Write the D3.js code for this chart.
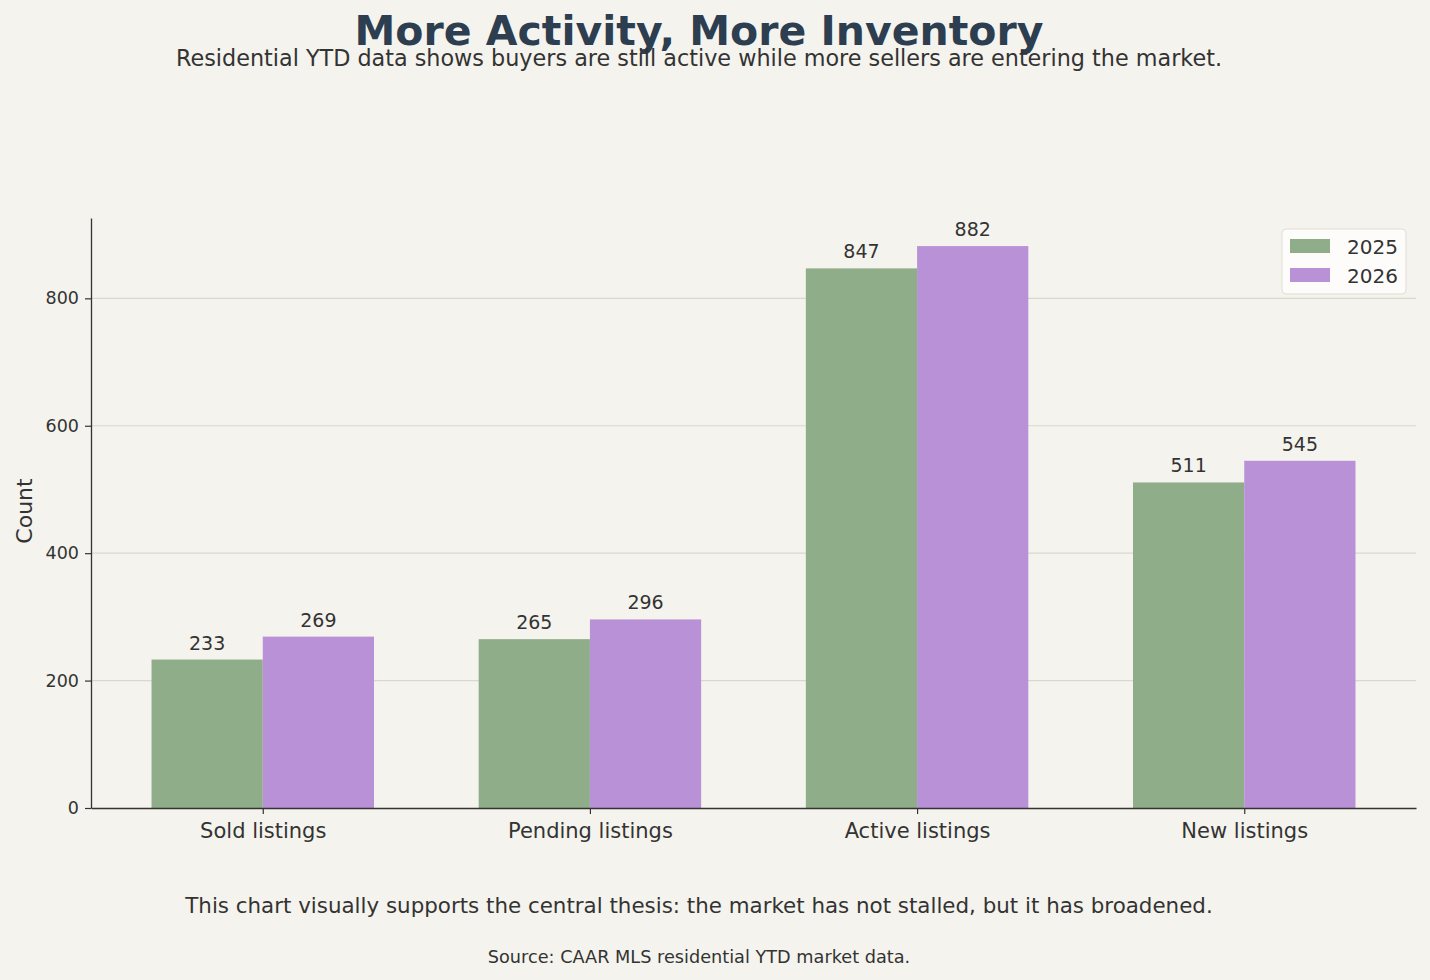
<!DOCTYPE html>
<html>
<head>
<meta charset="utf-8">
<script src="https://cdn.jsdelivr.net/npm/d3@7"></script>
<style>
  body { margin: 0; background: #f5f3ed; }
  svg text { font-family: "DejaVu Sans", sans-serif; }
</style>
</head>
<body>
<svg id="chart"></svg>
<script>
// dados
const categories = ["Sold listings", "Pending listings", "Active listings", "New listings"];
const years = ["2025", "2026"];
const values2025 = [233, 265, 847, 511];
const values2026 = [269, 296, 882, 545];
const yTicks = [0, 200, 400, 600, 800];
const colors = ["#8fad88", "#b991d6"];

const width = 1430, height = 980;
const margin = { top: 218, right: 14, bottom: 172, left: 91 };
const innerWidth = width - margin.left - margin.right;
const innerHeight = height - margin.top - margin.bottom;

const svg = d3.select("#chart").attr("width", width).attr("height", height);
svg.append("rect").attr("width", width).attr("height", height).attr("fill", "#f5f3ed");

const g = svg.append("g").attr("transform", `translate(${margin.left},${margin.top})`);

// eixo X: posição numérica das categorias, como no matplotlib
const x = d3.scaleLinear().domain([-0.525, 3.525]).range([0, innerWidth]);
const barW = 0.34;

const y = d3.scaleLinear()
  .domain([0, d3.max(values2026) * 1.05])
  .range([innerHeight, 0]);

// grade horizontal
g.append("g")
  .selectAll("line")
  .data(yTicks.filter(d => d > 0))
  .enter()
  .append("line")
  .attr("x1", 0).attr("x2", innerWidth)
  .attr("y1", d => y(d)).attr("y2", d => y(d))
  .attr("stroke", "#dcd7cc").attr("stroke-width", 1.2);

const series = [values2025, values2026];
series.forEach((vals, s) => {
  const off = s === 0 ? -barW / 2 : barW / 2;
  g.append("g")
    .selectAll("rect")
    .data(vals)
    .enter()
    .append("rect")
    .attr("x", (d, i) => x(i + off - barW / 2))
    .attr("width", x(barW) - x(0))
    .attr("y", d => y(d))
    .attr("height", d => innerHeight - y(d))
    .attr("fill", colors[s]);

  // rótulos dos valores
  g.append("g")
    .selectAll("text")
    .data(vals)
    .enter()
    .append("text")
    .attr("x", (d, i) => x(i + off))
    .attr("y", d => y(d) - 10)
    .attr("text-anchor", "middle")
    .attr("font-size", 19)
    .attr("fill", "#333")
    .text(d => d);
});

// eixo Y
const yAxis = g.append("g")
  .attr("font-family", null).attr("font-size", null)
  .call(d3.axisLeft(y).tickValues(yTicks).tickSize(6).tickSizeOuter(0).tickPadding(6));
yAxis.select(".domain").attr("stroke", "#333").attr("stroke-width", 1.3);
yAxis.selectAll(".tick line").attr("stroke", "#333").attr("stroke-width", 1.2);
yAxis.selectAll("text").style("font-size", "17.5px").attr("fill", "#333");

// eixo X
const xAxis = g.append("g")
  .attr("transform", `translate(0,${innerHeight})`)
  .call(d3.axisBottom(x).tickValues(d3.range(categories.length))
    .tickFormat(i => categories[i]).tickSize(6).tickPadding(6).tickSizeOuter(0));
xAxis.select(".domain").attr("stroke", "#333").attr("stroke-width", 1.3);
xAxis.selectAll(".tick line").attr("stroke", "#333").attr("stroke-width", 1.2);
xAxis.selectAll("text").style("font-size", "21px").attr("fill", "#333").attr("dy", "0.85em");

// rótulo do eixo Y
svg.append("text")
  .attr("transform", `translate(32,${margin.top + innerHeight / 2 - 2}) rotate(-90)`)
  .attr("text-anchor", "middle")
  .attr("font-size", 22)
  .attr("fill", "#333")
  .text("Count");

// legenda
const legend = svg.append("g").attr("transform", "translate(1282,229)");
legend.append("rect")
  .attr("width", 124).attr("height", 65).attr("rx", 4)
  .attr("fill", "#fdfcfa").attr("stroke", "#e0ddd4");
years.forEach((yr, i) => {
  legend.append("rect")
    .attr("x", 8).attr("y", 10 + i * 29)
    .attr("width", 40).attr("height", 14)
    .attr("fill", colors[i]);
  legend.append("text")
    .attr("x", 65).attr("y", 25 + i * 29)
    .attr("font-size", 20).attr("fill", "#333")
    .text(yr);
});

// títulos e notas
svg.append("text")
  .attr("x", 699).attr("y", 45)
  .attr("text-anchor", "middle")
  .attr("font-size", 41).attr("font-weight", "bold")
  .attr("fill", "#2c3e50")
  .text("More Activity, More Inventory");

svg.append("text")
  .attr("x", 699).attr("y", 66)
  .attr("text-anchor", "middle")
  .attr("font-size", 22.3).attr("fill", "#333")
  .text("Residential YTD data shows buyers are still active while more sellers are entering the market.");

svg.append("text")
  .attr("x", 699).attr("y", 913)
  .attr("text-anchor", "middle")
  .attr("font-size", 21.4).attr("fill", "#333")
  .text("This chart visually supports the central thesis: the market has not stalled, but it has broadened.");

svg.append("text")
  .attr("x", 699).attr("y", 963)
  .attr("text-anchor", "middle")
  .attr("font-size", 17.7).attr("fill", "#333")
  .text("Source: CAAR MLS residential YTD market data.");
</script>
</body>
</html>
